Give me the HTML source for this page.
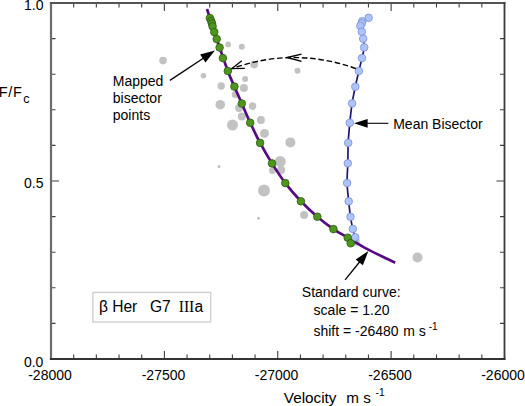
<!DOCTYPE html>
<html><head><meta charset="utf-8"><style>
html,body{margin:0;padding:0;background:#fff;}
body{width:525px;height:406px;overflow:hidden;font-family:"Liberation Sans",sans-serif;}
svg{display:block;}
</style></head><body>
<svg width="525" height="406" viewBox="0 0 525 406">
<rect width="525" height="406" fill="#fff"/>
<circle cx="163.0" cy="60.6" r="3.8" fill="#c2c2c2"/>
<circle cx="203.4" cy="75.7" r="2.8" fill="#c2c2c2"/>
<circle cx="228.2" cy="44.4" r="2.8" fill="#c2c2c2"/>
<circle cx="241.8" cy="46.8" r="3.0" fill="#c2c2c2"/>
<circle cx="254.1" cy="64.6" r="3.8" fill="#c2c2c2"/>
<circle cx="297.5" cy="70.8" r="3.0" fill="#c2c2c2"/>
<circle cx="245.1" cy="79.0" r="3.0" fill="#c2c2c2"/>
<circle cx="221.2" cy="86.0" r="3.7" fill="#c2c2c2"/>
<circle cx="243.9" cy="87.9" r="4.0" fill="#c2c2c2"/>
<circle cx="235.2" cy="94.5" r="3.5" fill="#c2c2c2"/>
<circle cx="220.3" cy="104.7" r="4.8" fill="#c2c2c2"/>
<circle cx="252.6" cy="106.1" r="3.8" fill="#c2c2c2"/>
<circle cx="239.1" cy="108.1" r="4.0" fill="#c2c2c2"/>
<circle cx="241.8" cy="116.4" r="4.0" fill="#c2c2c2"/>
<circle cx="232.5" cy="125.0" r="5.5" fill="#c2c2c2"/>
<circle cx="260.9" cy="120.1" r="4.0" fill="#c2c2c2"/>
<circle cx="264.5" cy="133.4" r="4.5" fill="#c2c2c2"/>
<circle cx="290.4" cy="142.4" r="5.0" fill="#c2c2c2"/>
<circle cx="280.2" cy="161.5" r="5.5" fill="#c2c2c2"/>
<circle cx="281.2" cy="170.0" r="4.2" fill="#c2c2c2"/>
<circle cx="272.5" cy="170.5" r="3.5" fill="#c2c2c2"/>
<circle cx="219.0" cy="166.6" r="1.5" fill="#c2c2c2"/>
<circle cx="264.0" cy="190.5" r="6.0" fill="#c2c2c2"/>
<circle cx="258.5" cy="218.3" r="1.5" fill="#c2c2c2"/>
<circle cx="304.1" cy="215.1" r="4.0" fill="#c2c2c2"/>
<circle cx="355.8" cy="241.8" r="4.0" fill="#c2c2c2"/>
<circle cx="417.5" cy="257.5" r="5.0" fill="#c2c2c2"/>
<path d="M362.00,58.10 C361.48,60.25 360.02,66.23 358.90,71.00 C357.78,75.77 356.43,81.30 355.30,86.70 C354.17,92.10 353.02,97.38 352.10,103.40 C351.18,109.42 350.45,116.22 349.80,122.80 C349.15,129.38 348.53,136.15 348.20,142.90 C347.87,149.65 347.98,156.62 347.80,163.30 C347.62,169.98 346.95,176.67 347.10,183.00 C347.25,189.33 348.13,195.67 348.70,201.30 C349.27,206.93 349.82,212.20 350.50,216.80 C351.18,221.40 352.02,225.48 352.80,228.90 C353.58,232.32 354.80,235.90 355.20,237.30" fill="none" stroke="#1f1570" stroke-width="1.7"/>
<path d="M368.60,17.80 C367.55,18.37 363.43,20.28 362.30,21.20 C361.17,22.12 362.13,22.52 361.80,23.30 C361.47,24.08 360.30,24.50 360.30,25.90 C360.30,27.30 361.32,29.57 361.80,31.70 C362.28,33.83 362.80,36.08 363.20,38.70 C363.60,41.32 364.40,44.17 364.20,47.40 C364.00,50.63 362.37,56.32 362.00,58.10" fill="none" stroke="#1f1570" stroke-width="1.7"/>
<path d="M207.00,9.00 C207.48,10.52 208.68,14.25 209.90,18.10 C211.12,21.95 212.68,27.20 214.30,32.10 C215.92,37.00 217.35,41.02 219.60,47.50 C221.85,53.98 225.33,64.48 227.80,71.00 C230.27,77.52 232.07,81.18 234.40,86.60 C236.73,92.02 239.17,97.47 241.80,103.50 C244.43,109.53 247.15,116.23 250.20,122.80 C253.25,129.37 256.47,136.13 260.10,142.90 C263.73,149.67 267.80,156.70 272.00,163.40 C276.20,170.10 280.48,176.78 285.30,183.10 C290.12,189.42 295.57,195.70 300.90,201.30 C306.23,206.90 311.88,212.07 317.30,216.70 C322.72,221.33 328.33,225.62 333.40,229.10 C338.47,232.58 341.95,234.22 347.70,237.60 C353.45,240.98 359.98,245.22 367.90,249.40 C375.82,253.58 390.65,260.48 395.20,262.70" fill="none" stroke="#570a82" stroke-width="2.7" stroke-linecap="butt"/>
<circle cx="368.6" cy="17.8" r="3.8" fill="#aec4f6" stroke="#7a8ee0" stroke-width="0.8"/>
<circle cx="362.3" cy="21.2" r="3.8" fill="#aec4f6" stroke="#7a8ee0" stroke-width="0.8"/>
<circle cx="361.8" cy="23.3" r="3.8" fill="#aec4f6" stroke="#7a8ee0" stroke-width="0.8"/>
<circle cx="360.3" cy="25.9" r="3.8" fill="#aec4f6" stroke="#7a8ee0" stroke-width="0.8"/>
<circle cx="361.8" cy="31.7" r="3.8" fill="#aec4f6" stroke="#7a8ee0" stroke-width="0.8"/>
<circle cx="363.2" cy="38.7" r="3.8" fill="#aec4f6" stroke="#7a8ee0" stroke-width="0.8"/>
<circle cx="364.2" cy="47.4" r="3.8" fill="#aec4f6" stroke="#7a8ee0" stroke-width="0.8"/>
<circle cx="362.0" cy="58.1" r="3.8" fill="#aec4f6" stroke="#7a8ee0" stroke-width="0.8"/>
<circle cx="358.9" cy="71.0" r="3.8" fill="#aec4f6" stroke="#7a8ee0" stroke-width="0.8"/>
<circle cx="355.3" cy="86.7" r="3.8" fill="#aec4f6" stroke="#7a8ee0" stroke-width="0.8"/>
<circle cx="352.1" cy="103.4" r="3.8" fill="#aec4f6" stroke="#7a8ee0" stroke-width="0.8"/>
<circle cx="349.8" cy="122.8" r="3.8" fill="#aec4f6" stroke="#7a8ee0" stroke-width="0.8"/>
<circle cx="348.2" cy="142.9" r="3.8" fill="#aec4f6" stroke="#7a8ee0" stroke-width="0.8"/>
<circle cx="347.8" cy="163.3" r="3.8" fill="#aec4f6" stroke="#7a8ee0" stroke-width="0.8"/>
<circle cx="347.1" cy="183.0" r="3.8" fill="#aec4f6" stroke="#7a8ee0" stroke-width="0.8"/>
<circle cx="348.7" cy="201.3" r="3.8" fill="#aec4f6" stroke="#7a8ee0" stroke-width="0.8"/>
<circle cx="350.5" cy="216.8" r="3.8" fill="#aec4f6" stroke="#7a8ee0" stroke-width="0.8"/>
<circle cx="352.8" cy="228.9" r="3.8" fill="#aec4f6" stroke="#7a8ee0" stroke-width="0.8"/>
<circle cx="355.2" cy="237.3" r="3.8" fill="#aec4f6" stroke="#7a8ee0" stroke-width="0.8"/>
<circle cx="209.9" cy="18.1" r="3.8" fill="#4f961d" stroke="#2b5a10" stroke-width="0.8"/>
<circle cx="211.2" cy="21.1" r="3.8" fill="#4f961d" stroke="#2b5a10" stroke-width="0.8"/>
<circle cx="212.0" cy="23.5" r="3.8" fill="#4f961d" stroke="#2b5a10" stroke-width="0.8"/>
<circle cx="212.6" cy="26.4" r="3.8" fill="#4f961d" stroke="#2b5a10" stroke-width="0.8"/>
<circle cx="214.3" cy="32.1" r="3.8" fill="#4f961d" stroke="#2b5a10" stroke-width="0.8"/>
<circle cx="216.7" cy="39.0" r="3.8" fill="#4f961d" stroke="#2b5a10" stroke-width="0.8"/>
<circle cx="219.6" cy="47.5" r="3.8" fill="#4f961d" stroke="#2b5a10" stroke-width="0.8"/>
<circle cx="222.9" cy="58.1" r="3.8" fill="#4f961d" stroke="#2b5a10" stroke-width="0.8"/>
<circle cx="227.8" cy="71.0" r="3.8" fill="#4f961d" stroke="#2b5a10" stroke-width="0.8"/>
<circle cx="234.4" cy="86.6" r="3.8" fill="#4f961d" stroke="#2b5a10" stroke-width="0.8"/>
<circle cx="241.8" cy="103.5" r="3.8" fill="#4f961d" stroke="#2b5a10" stroke-width="0.8"/>
<circle cx="250.2" cy="122.8" r="3.8" fill="#4f961d" stroke="#2b5a10" stroke-width="0.8"/>
<circle cx="260.1" cy="142.9" r="3.8" fill="#4f961d" stroke="#2b5a10" stroke-width="0.8"/>
<circle cx="272.0" cy="163.4" r="3.8" fill="#4f961d" stroke="#2b5a10" stroke-width="0.8"/>
<circle cx="285.3" cy="183.1" r="3.8" fill="#4f961d" stroke="#2b5a10" stroke-width="0.8"/>
<circle cx="300.9" cy="201.3" r="3.8" fill="#4f961d" stroke="#2b5a10" stroke-width="0.8"/>
<circle cx="317.3" cy="216.7" r="3.8" fill="#4f961d" stroke="#2b5a10" stroke-width="0.8"/>
<circle cx="333.4" cy="229.1" r="3.8" fill="#4f961d" stroke="#2b5a10" stroke-width="0.8"/>
<circle cx="347.7" cy="237.7" r="3.8" fill="#4f961d" stroke="#2b5a10" stroke-width="0.8"/>
<circle cx="350.7" cy="243.3" r="3.8" fill="#4f961d" stroke="#2b5a10" stroke-width="0.8"/>
<path d="M51.00,359.00v-8.00 M51.00,3.00v8.00 M73.67,359.00v-4.50 M73.67,3.00v4.50 M96.35,359.00v-4.50 M96.35,3.00v4.50 M119.03,359.00v-4.50 M119.03,3.00v4.50 M141.70,359.00v-4.50 M141.70,3.00v4.50 M164.38,359.00v-8.00 M164.38,3.00v8.00 M187.05,359.00v-4.50 M187.05,3.00v4.50 M209.72,359.00v-4.50 M209.72,3.00v4.50 M232.40,359.00v-4.50 M232.40,3.00v4.50 M255.07,359.00v-4.50 M255.07,3.00v4.50 M277.75,359.00v-8.00 M277.75,3.00v8.00 M300.43,359.00v-4.50 M300.43,3.00v4.50 M323.10,359.00v-4.50 M323.10,3.00v4.50 M345.77,359.00v-4.50 M345.77,3.00v4.50 M368.45,359.00v-4.50 M368.45,3.00v4.50 M391.12,359.00v-8.00 M391.12,3.00v8.00 M413.80,359.00v-4.50 M413.80,3.00v4.50 M436.48,359.00v-4.50 M436.48,3.00v4.50 M459.15,359.00v-4.50 M459.15,3.00v4.50 M481.82,359.00v-4.50 M481.82,3.00v4.50 M504.50,359.00v-8.00 M504.50,3.00v8.00 M51.00,359.00h8.00 M504.50,359.00h-8.00 M51.00,323.40h4.50 M504.50,323.40h-4.50 M51.00,287.80h4.50 M504.50,287.80h-4.50 M51.00,252.20h4.50 M504.50,252.20h-4.50 M51.00,216.60h4.50 M504.50,216.60h-4.50 M51.00,181.00h8.00 M504.50,181.00h-8.00 M51.00,145.40h4.50 M504.50,145.40h-4.50 M51.00,109.80h4.50 M504.50,109.80h-4.50 M51.00,74.20h4.50 M504.50,74.20h-4.50 M51.00,38.60h4.50 M504.50,38.60h-4.50 M51.00,3.00h8.00 M504.50,3.00h-8.00" stroke="#3f3f3f" stroke-width="1.1" fill="none"/>
<path d="M51.00,2.10V359.90" stroke="#6c6c6c" stroke-width="2.2" fill="none"/>
<path d="M49.90,3.00H505.40" stroke="#555" stroke-width="2.0" fill="none"/>
<path d="M504.50,2.00V360.00" stroke="#3c3c3c" stroke-width="1.8" fill="none"/>
<path d="M49.90,359.00H505.40" stroke="#333" stroke-width="2.0" fill="none"/>
<path d="M169.90,80.40L204.49,57.42" stroke="#000" stroke-width="1.30"/><path d="M214.90,50.50L205.48,62.52L200.17,54.53Z" fill="#000"/>
<path d="M388.40,123.30L365.60,123.30" stroke="#000" stroke-width="1.10"/><path d="M354.00,123.30L367.60,118.90L367.60,127.70Z" fill="#000"/>
<path d="M345.10,279.90L360.55,260.73" stroke="#000" stroke-width="1.30"/><path d="M368.40,251.00L362.88,265.18L355.72,259.40Z" fill="#000"/>
<path d="M356,68.6 Q294,46.4 231.9,68.6" fill="none" stroke="#000" stroke-width="1.4" stroke-dasharray="5.6,2.7"/>
<path d="M241.8,60.7 L231.9,68.6 L244.8,68.3" fill="none" stroke="#000" stroke-width="1.3"/>
<path d="M301.5,54.1 L287.3,57.5 L301.5,61.3" fill="none" stroke="#000" stroke-width="1.3"/>
<text x="43.50" y="10.40" font-size="14.00" text-anchor="end" font-family="Liberation Sans, sans-serif" >1.0</text>
<text x="43.50" y="188.10" font-size="14.00" text-anchor="end" font-family="Liberation Sans, sans-serif" >0.5</text>
<text x="43.40" y="366.90" font-size="14.00" text-anchor="end" font-family="Liberation Sans, sans-serif" >0.0</text>
<text x="50.00" y="379.70" font-size="14.00" text-anchor="middle" font-family="Liberation Sans, sans-serif" >-28000</text>
<text x="163.50" y="379.70" font-size="14.00" text-anchor="middle" font-family="Liberation Sans, sans-serif" >-27500</text>
<text x="276.60" y="379.70" font-size="14.00" text-anchor="middle" font-family="Liberation Sans, sans-serif" >-27000</text>
<text x="390.00" y="379.70" font-size="14.00" text-anchor="middle" font-family="Liberation Sans, sans-serif" >-26500</text>
<text x="503.00" y="379.70" font-size="14.00" text-anchor="middle" font-family="Liberation Sans, sans-serif" >-26000</text>
<text transform="translate(-1.2,96.7) scale(0.95,1)" font-size="15.3" font-family="Liberation Sans, sans-serif">F</text>
<text transform="translate(8.3,96.7) scale(0.95,1)" font-size="15.3" font-family="Liberation Sans, sans-serif">/</text>
<text transform="translate(13.1,96.7) scale(0.95,1)" font-size="15.3" font-family="Liberation Sans, sans-serif">F</text>
<text x="23.20" y="102.50" font-size="12.50" text-anchor="start" font-family="Liberation Sans, sans-serif" >c</text>
<text transform="translate(283.8,402.7) scale(1.055,1)" font-size="14.5" font-family="Liberation Sans, sans-serif">Velocity</text>
<text transform="translate(346.3,402.7) scale(1.055,1)" font-size="14.5" font-family="Liberation Sans, sans-serif">m s</text>
<text x="375.60" y="395.70" font-size="10.20" text-anchor="start" font-family="Liberation Sans, sans-serif" >-1</text>
<text x="112.80" y="86.00" font-size="14.00" text-anchor="start" font-family="Liberation Sans, sans-serif" >Mapped</text>
<text x="112.80" y="103.20" font-size="14.00" text-anchor="start" font-family="Liberation Sans, sans-serif" >bisector</text>
<text x="112.80" y="120.10" font-size="14.00" text-anchor="start" font-family="Liberation Sans, sans-serif" >points</text>
<text x="393.20" y="129.00" font-size="14.00" text-anchor="start" font-family="Liberation Sans, sans-serif" >Mean Bisector</text>
<text x="301.80" y="296.90" font-size="14.00" text-anchor="start" font-family="Liberation Sans, sans-serif" >Standard curve:</text>
<text x="313.60" y="314.60" font-size="14.00" text-anchor="start" font-family="Liberation Sans, sans-serif" >scale = 1.20</text>
<text x="313.40" y="335.60" font-size="14.00" text-anchor="start" font-family="Liberation Sans, sans-serif" >shift = -26480</text>
<text x="403.30" y="335.60" font-size="14.00" text-anchor="start" font-family="Liberation Sans, sans-serif" >m s</text>
<text x="428.70" y="330.40" font-size="10.00" text-anchor="start" font-family="Liberation Sans, sans-serif" >-1</text>
<rect x="92.9" y="292.4" width="117.8" height="29.6" fill="none" stroke="#cccccc" stroke-width="1.3"/>
<text x="98.90" y="311.70" font-size="15.60" text-anchor="start" font-family="Liberation Sans, sans-serif" >&#946;</text>
<text x="112.20" y="311.70" font-size="15.60" text-anchor="start" font-family="Liberation Sans, sans-serif" >Her</text>
<text x="149.90" y="311.70" font-size="15.60" text-anchor="start" font-family="Liberation Sans, sans-serif" >G7</text>
<text transform="translate(178.70,311.70) scale(0.910,1)" font-size="17.20" text-anchor="start" font-family="Liberation Serif, serif" >III</text>
<text x="194.60" y="311.70" font-size="15.60" text-anchor="start" font-family="Liberation Sans, sans-serif" >a</text>
</svg>
</body></html>
